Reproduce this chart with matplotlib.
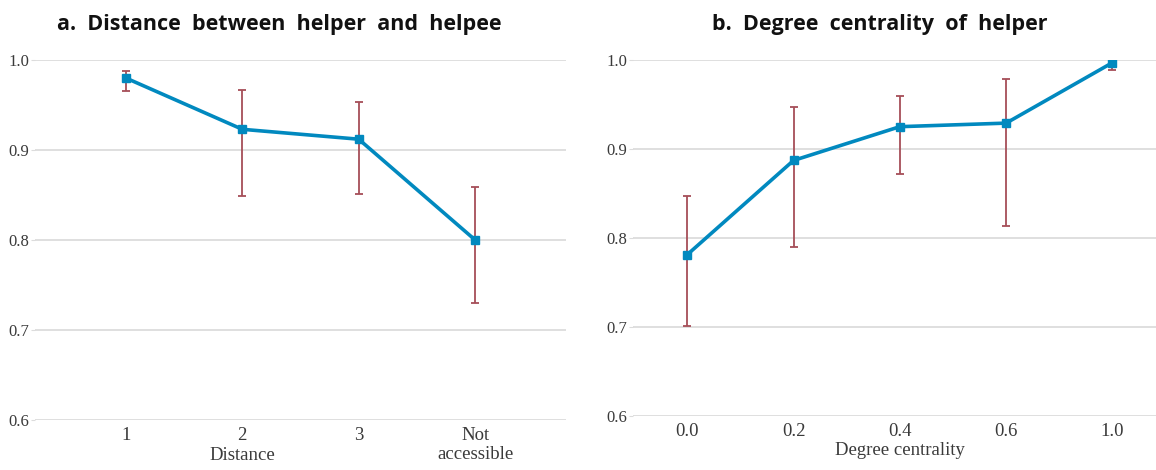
import matplotlib
matplotlib.use('Agg')
import matplotlib.pyplot as plt

# panel a: distance between helper and helpee
dist_labels = ['1', '2', '3', 'Not\naccessible']
dist_mean = [0.980, 0.923, 0.912, 0.800]
dist_low = [0.966, 0.849, 0.851, 0.730]
dist_high = [0.988, 0.967, 0.953, 0.859]

# panel b: degree centrality of helper
deg_labels = ['0.0', '0.2', '0.4', '0.6', '1.0']
deg_mean = [0.781, 0.887, 0.925, 0.929, 0.997]
deg_low = [0.701, 0.790, 0.872, 0.813, 0.989]
deg_high = [0.847, 0.947, 0.960, 0.979, 0.999]

y_ticks = [0.6, 0.7, 0.8, 0.9, 1.0]

LINE = '#0189BF'
ERR = '#A64E58'
GRID = '#DCDCDC'
TXT = '#3a3a3a'
SERIF = 'Liberation Serif'

W, H = 1156, 470
fig = plt.figure(figsize=(W / 100, H / 100), dpi=100)


def px_axes(left, right, top, bottom):
    return fig.add_axes([left / W, 1 - bottom / H, (right - left) / W, (bottom - top) / H])


def draw_panel(ax, labels, mean, low, high, xlim, xlabel, label_x):
    x = list(range(len(labels)))
    yerr = [[m - l for m, l in zip(mean, low)], [h - m for m, h in zip(mean, high)]]
    ax.errorbar(x, mean, yerr=yerr, fmt='none', ecolor=ERR, elinewidth=1.3,
                capsize=3, capthick=1.3, zorder=2)
    ax.plot(x, mean, color=LINE, lw=2.6, marker='s', ms=5.5, zorder=3)
    ax.set_xlim(*xlim)
    ax.set_ylim(0.6, 1.0)
    ax.set_yticks(y_ticks)
    ax.set_yticklabels([f'{v:.1f}' for v in y_ticks], fontsize=12,
                       family=SERIF, color=TXT)
    ax.set_xticks(x)
    ax.set_xticklabels(labels, fontsize=13.5, family=SERIF, color=TXT,
                       linespacing=1.15)
    ax.grid(axis='y', color=GRID, lw=1.3)
    ax.set_axisbelow(True)
    for s in ax.spines.values():
        s.set_visible(False)
    ax.tick_params(axis='y', length=3, color=GRID, pad=1)
    ax.tick_params(axis='x', length=0, pad=5)
    ax.set_xlabel(xlabel, fontsize=13.5, family=SERIF, color=TXT, labelpad=0)
    ax.xaxis.set_label_coords(label_x, -0.075)
    ax.patch.set_alpha(0)


ax1 = px_axes(35, 566, 60, 420)
draw_panel(ax1, dist_labels, dist_mean, dist_low, dist_high,
           (-0.78, 3.78), 'Distance', 0.39)

ax2 = px_axes(633, 1156, 60, 415.6)
draw_panel(ax2, deg_labels, deg_mean, deg_low, deg_high,
           (-0.51, 4.41), 'Degree centrality', 0.51)

fig.text(279 / W, 1 - 30 / H, 'a.  Distance  between  helper  and  helpee',
         ha='center', va='baseline', fontsize=15.5, fontweight='bold',
         family='Open Sans', color='#111111')
fig.text(880 / W, 1 - 30 / H, 'b.  Degree  centrality  of  helper',
         ha='center', va='baseline', fontsize=15.5, fontweight='bold',
         family='Open Sans', color='#111111')

fig.savefig('out.png', dpi=100, facecolor='white')
